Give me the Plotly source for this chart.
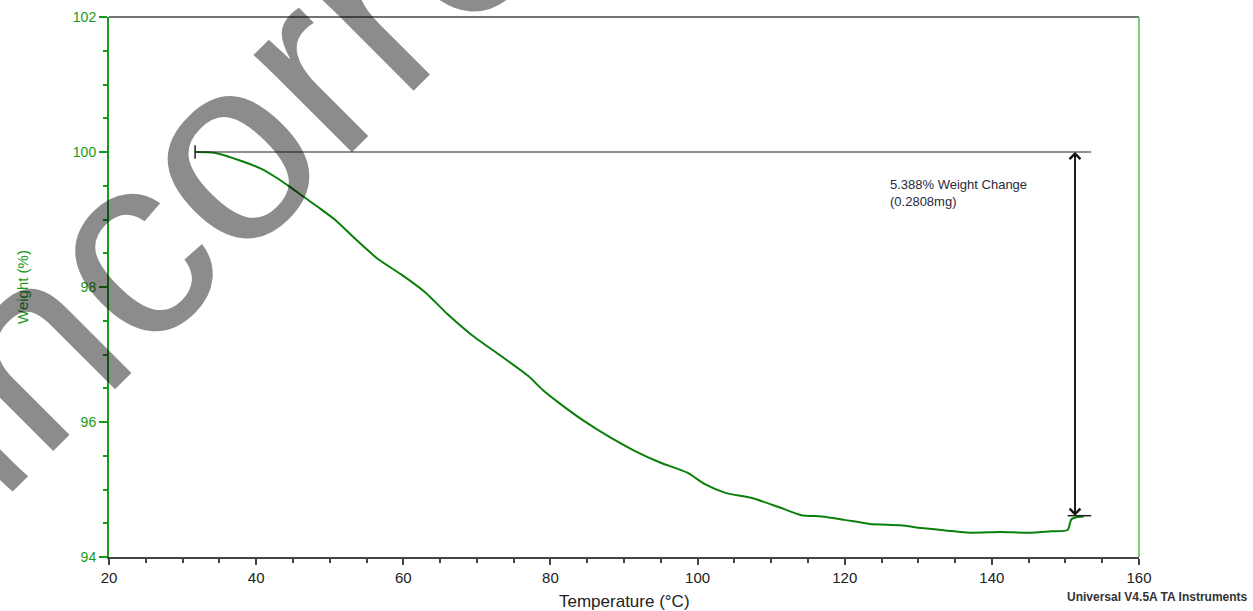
import plotly.graph_objects as go

# --- data ---
temperature = [31.7, 34.3, 38.2, 40.5, 42.6, 44.5, 46.4, 48.6, 50.8, 53.5, 56.6, 59.8, 63.0,
               66.0, 69.3, 73.0, 77.0, 79.0, 81.2, 84.5, 88.3, 91.5, 94.9, 98.6, 101.0,
               103.8, 107.5, 111.0, 114.1, 116.9, 120.0, 123.4, 127.6, 130.4, 134.0, 137.0,
               141.2, 144.9, 148.0, 150.3, 150.8, 151.5, 152.5]
weight = [100.0, 99.99, 99.86, 99.76, 99.63, 99.49, 99.34, 99.17, 98.99, 98.71, 98.41, 98.18,
          97.92, 97.60, 97.29, 97.00, 96.68, 96.47, 96.28, 96.02, 95.76, 95.57, 95.40, 95.25,
          95.08, 94.95, 94.87, 94.74, 94.62, 94.60, 94.55, 94.49, 94.47, 94.43, 94.39, 94.36,
          94.37, 94.36, 94.38, 94.40, 94.56, 94.59, 94.60]

x_ticks = [20, 40, 60, 80, 100, 120, 140, 160]
y_ticks = [94, 96, 98, 100, 102]

step_start_T = 31.7
step_end_T = 153.5
arrow_T = 151.3
w_start = 100.0
weight_change_pct = 5.388
w_end = w_start - weight_change_pct
change_label = "5.388% Weight Change<br>(0.2808mg)"

FONT = "Liberation Sans, Arial, sans-serif"
GREEN_AX = "#1a9a1a"
LINE_GREEN = "#0a800a"

fig = go.Figure()
fig.add_trace(go.Scatter(x=temperature, y=weight, mode="lines",
                         line=dict(color=LINE_GREEN, width=2, shape="spline", smoothing=0.6),
                         showlegend=False, hoverinfo="skip"))

# step annotation lines
fig.add_shape(type="line", x0=step_start_T, x1=step_end_T, y0=w_start, y1=w_start,
              line=dict(color="#222222", width=1.2))
fig.add_shape(type="line", x0=step_start_T, x1=step_start_T, y0=w_start - 0.1, y1=w_start + 0.1,
              line=dict(color="#222222", width=1.5))
fig.add_shape(type="line", x0=arrow_T - 1.0, x1=step_end_T, y0=w_end, y1=w_end,
              line=dict(color="#222222", width=1.5))
# double arrow
fig.add_annotation(x=arrow_T, y=w_start, ax=arrow_T, ay=w_end, xref="x", yref="y",
                   axref="x", ayref="y", showarrow=True, arrowhead=4, arrowsize=1.4,
                   arrowwidth=1.5, arrowcolor="#111111", text="")
fig.add_annotation(x=arrow_T, y=w_end, ax=arrow_T, ay=w_start, xref="x", yref="y",
                   axref="x", ayref="y", showarrow=True, arrowhead=4, arrowsize=1.4,
                   arrowwidth=1.5, arrowcolor="#111111", text="")
fig.add_annotation(x=125.9, y=99.66, xref="x", yref="y", text=change_label, showarrow=False,
                   xanchor="left", yanchor="top", align="left",
                   font=dict(family=FONT, size=13, color="#2a2a3a"))

# borders
fig.add_shape(type="line", xref="paper", yref="paper", x0=0, x1=1, y0=1, y1=1,
              line=dict(color="#444444", width=1.5))
fig.add_shape(type="line", xref="paper", yref="paper", x0=1, x1=1, y0=0, y1=1,
              line=dict(color="#7fcf7f", width=2))

# axis titles
fig.add_annotation(xref="paper", yref="paper", x=0.5, y=-0.0815, xanchor="center",
                   yanchor="middle", text="Temperature (°C)", showarrow=False,
                   font=dict(family=FONT, size=17, color="#222222"))
fig.add_annotation(xref="paper", yref="paper", x=-0.0845, y=0.5, xanchor="center",
                   yanchor="middle", text="Weight (%)", showarrow=False, textangle=-90,
                   font=dict(family=FONT, size=15, color=GREEN_AX))

# footer
fig.add_annotation(xref="paper", yref="paper", x=1.1078, y=-0.074, xanchor="right",
                   yanchor="middle", text="<b>Universal V4.5A TA Instruments</b>",
                   showarrow=False, font=dict(family=FONT, size=12, color="#333333"))

# watermark
fig.add_annotation(xref="paper", yref="paper", x=0.2466, y=1.0056, xanchor="center",
                   yanchor="middle", text="uncorrected",
                   showarrow=False, textangle=-45,
                   font=dict(family=FONT, size=262, color="rgba(0,0,0,0.45)"))

fig.update_layout(
    width=1253, height=611,
    margin=dict(l=109, r=114, t=17, b=54, autoexpand=False),
    plot_bgcolor="white", paper_bgcolor="white",
    font=dict(family=FONT),
    xaxis=dict(range=[20, 160], tickvals=x_ticks, ticks="outside", ticklen=6, tickwidth=1.5,
               tickcolor="#444444", showline=True, linecolor="#444444", linewidth=1.5,
               showgrid=False, zeroline=False, automargin=False,
               minor=dict(dtick=5, ticks="outside", ticklen=4, tickcolor="#444444"),
               tickfont=dict(size=15, color="#222222")),
    yaxis=dict(range=[94, 102], tickvals=y_ticks, ticks="outside", ticklen=8, tickwidth=1.5,
               tickcolor=GREEN_AX, showline=True, linecolor=GREEN_AX, linewidth=2,
               showgrid=False, zeroline=False, automargin=False,
               minor=dict(dtick=0.5, ticks="outside", ticklen=4, tickcolor=GREEN_AX),
               tickfont=dict(size=14, color=GREEN_AX)),
)

fig.write_html("out.html")
